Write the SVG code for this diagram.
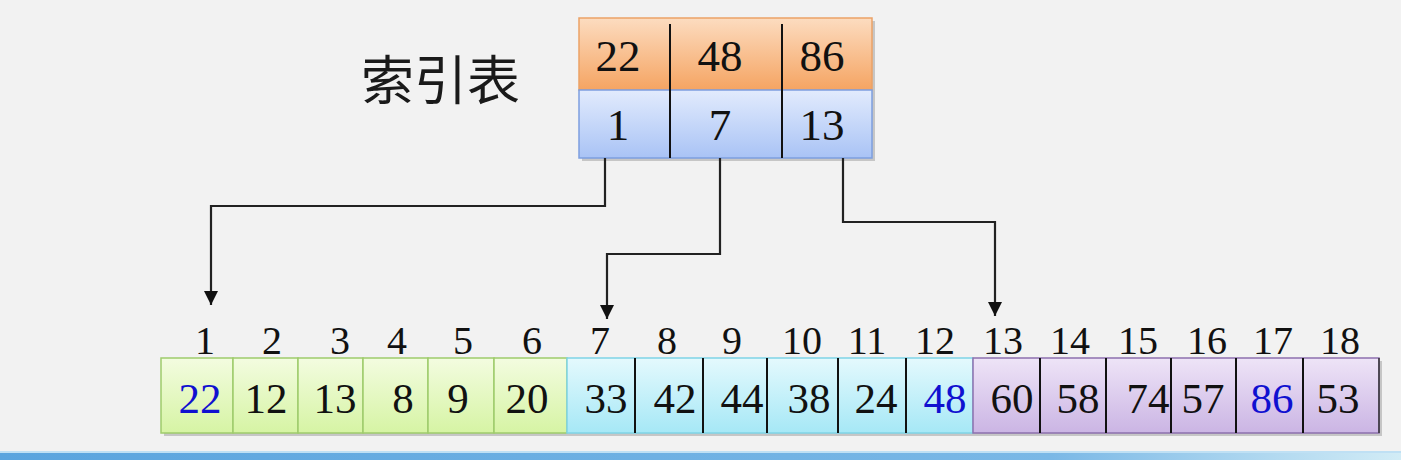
<svg xmlns="http://www.w3.org/2000/svg" width="1401" height="460" viewBox="0 0 1401 460">
<defs>
<linearGradient id="gOr" x1="0" y1="0" x2="0" y2="1"><stop offset="0" stop-color="#fcdcc0"/><stop offset="1" stop-color="#f5a462"/></linearGradient>
<linearGradient id="gBl" x1="0" y1="0" x2="0" y2="1"><stop offset="0" stop-color="#e2ebfd"/><stop offset="1" stop-color="#a9c3f5"/></linearGradient>
<linearGradient id="gGr" x1="0" y1="0" x2="0" y2="1"><stop offset="0" stop-color="#f3fce0"/><stop offset="1" stop-color="#d6f4a4"/></linearGradient>
<linearGradient id="gCy" x1="0" y1="0" x2="0" y2="1"><stop offset="0" stop-color="#e4f9fd"/><stop offset="1" stop-color="#a6e8f6"/></linearGradient>
<linearGradient id="gPu" x1="0" y1="0" x2="0" y2="1"><stop offset="0" stop-color="#eee4f7"/><stop offset="1" stop-color="#cbb5e4"/></linearGradient>
<linearGradient id="gBar" x1="0" y1="0" x2="1" y2="0"><stop offset="0" stop-color="#5aa4de"/><stop offset="0.75" stop-color="#7ab8e6"/><stop offset="1" stop-color="#d2ecf6"/></linearGradient>
<marker id="arr" viewBox="0 0 14 14" refX="14" refY="7" markerWidth="14" markerHeight="14" markerUnits="userSpaceOnUse" orient="auto">
<path d="M0,0 L14,7 L0,14 Z" fill="#111"/>
</marker>
</defs>
<style>
text{font-family:"Liberation Serif","Times New Roman","DejaVu Serif",serif}
.num{font-size:43px;fill:#111;text-anchor:middle}
.idx{font-size:40px;fill:#111;text-anchor:middle}
.key{fill:#1010d0}
.tnum{font-size:45px;fill:#111;text-anchor:middle}
.title{font-family:"Noto Sans CJK SC","Noto Sans",sans-serif;font-size:53px;fill:#1a1a1a}
.conn{fill:none;stroke:#222;stroke-width:2.2}
.sh{fill:#000;opacity:0.18}
.grc{fill:url(#gGr);stroke:#9fcc6c;stroke-width:1.5}
.dv{stroke:#111;stroke-width:2}
</style>
<rect width="1401" height="460" fill="#f2f2f2"/>
<rect x="0" y="452" width="1401" height="8" fill="url(#gBar)"/>
<rect x="0" y="451" width="1401" height="2" fill="#bfe0f4"/>

<g id="title"><text class="title" x="361" y="100">索引表</text></g>

<g id="index-table">
<rect class="sh" x="582" y="21" width="293" height="140"/>
<rect x="579" y="18" width="293" height="72" fill="url(#gOr)" stroke="#eba267" stroke-width="1.5"/>
<rect x="579" y="90" width="293" height="68" fill="url(#gBl)" stroke="#7d9fdf" stroke-width="1.5"/>
<line class="dv" x1="670" y1="24" x2="670" y2="158"/>
<line class="dv" x1="782" y1="24" x2="782" y2="158"/>
<text class="tnum" x="618" y="71">22</text>
<text class="tnum" x="720" y="71">48</text>
<text class="tnum" x="822" y="71">86</text>
<text class="tnum" x="618" y="140">1</text>
<text class="tnum" x="720" y="140">7</text>
<text class="tnum" x="822" y="140">13</text>
</g>

<g id="connectors">
<path class="conn" d="M605,158 V206 H211 V305" marker-end="url(#arr)"/>
<path class="conn" d="M720,158 V254 H607 V319" marker-end="url(#arr)"/>
<path class="conn" d="M843,158 V222 H995 V316" marker-end="url(#arr)"/>
</g>

<g id="array">
<rect class="sh" x="164" y="361" width="1218" height="75"/>
<g id="block1">
<rect class="grc" x="161" y="358" width="72" height="75"/>
<rect class="grc" x="233" y="358" width="65" height="75"/>
<rect class="grc" x="298" y="358" width="65" height="75"/>
<rect class="grc" x="363" y="358" width="65" height="75"/>
<rect class="grc" x="428" y="358" width="66" height="75"/>
<rect class="grc" x="494" y="358" width="73" height="75"/>
<text class="num key" x="200" y="413">22</text>
<text class="num" x="266" y="413">12</text>
<text class="num" x="335" y="413">13</text>
<text class="num" x="403" y="413">8</text>
<text class="num" x="458" y="413">9</text>
<text class="num" x="527" y="413">20</text>
</g>
<g id="block2">
<rect x="567" y="358" width="406" height="75" fill="url(#gCy)" stroke="#7fd4e6" stroke-width="1.5"/>
<line class="dv" x1="635" y1="358" x2="635" y2="433"/>
<line class="dv" x1="703" y1="358" x2="703" y2="433"/>
<line class="dv" x1="767" y1="358" x2="767" y2="433"/>
<line class="dv" x1="838" y1="358" x2="838" y2="433"/>
<line class="dv" x1="906" y1="358" x2="906" y2="433"/>
<text class="num" x="606" y="413">33</text>
<text class="num" x="675" y="413">42</text>
<text class="num" x="742" y="413">44</text>
<text class="num" x="809" y="413">38</text>
<text class="num" x="876" y="413">24</text>
<text class="num key" x="945" y="413">48</text>
</g>
<g id="block3">
<rect x="973" y="358" width="406" height="75" fill="url(#gPu)" stroke="#8d70ae" stroke-width="1.5"/>
<line class="dv" x1="1040" y1="358" x2="1040" y2="433"/>
<line class="dv" x1="1106" y1="358" x2="1106" y2="433"/>
<line class="dv" x1="1171" y1="358" x2="1171" y2="433"/>
<line class="dv" x1="1236" y1="358" x2="1236" y2="433"/>
<line class="dv" x1="1303" y1="358" x2="1303" y2="433"/>
<line x1="1379" y1="358" x2="1379" y2="433" stroke="#333" stroke-width="1.5"/>
<text class="num" x="1012" y="413">60</text>
<text class="num" x="1078" y="413">58</text>
<text class="num" x="1148" y="413">74</text>
<text class="num" x="1203" y="413">57</text>
<text class="num key" x="1272" y="413">86</text>
<text class="num" x="1338" y="413">53</text>
</g>
</g>

<g id="positions">
<text class="idx" x="205" y="354">1</text>
<text class="idx" x="272" y="354">2</text>
<text class="idx" x="340" y="354">3</text>
<text class="idx" x="397" y="354">4</text>
<text class="idx" x="463" y="354">5</text>
<text class="idx" x="532" y="354">6</text>
<text class="idx" x="600" y="354">7</text>
<text class="idx" x="667" y="354">8</text>
<text class="idx" x="732" y="354">9</text>
<text class="idx" x="802" y="354">10</text>
<text class="idx" x="867" y="354">11</text>
<text class="idx" x="935" y="354">12</text>
<text class="idx" x="1003" y="354">13</text>
<text class="idx" x="1070" y="354">14</text>
<text class="idx" x="1138" y="354">15</text>
<text class="idx" x="1207" y="354">16</text>
<text class="idx" x="1273" y="354">17</text>
<text class="idx" x="1340" y="354">18</text>
</g>
</svg>
